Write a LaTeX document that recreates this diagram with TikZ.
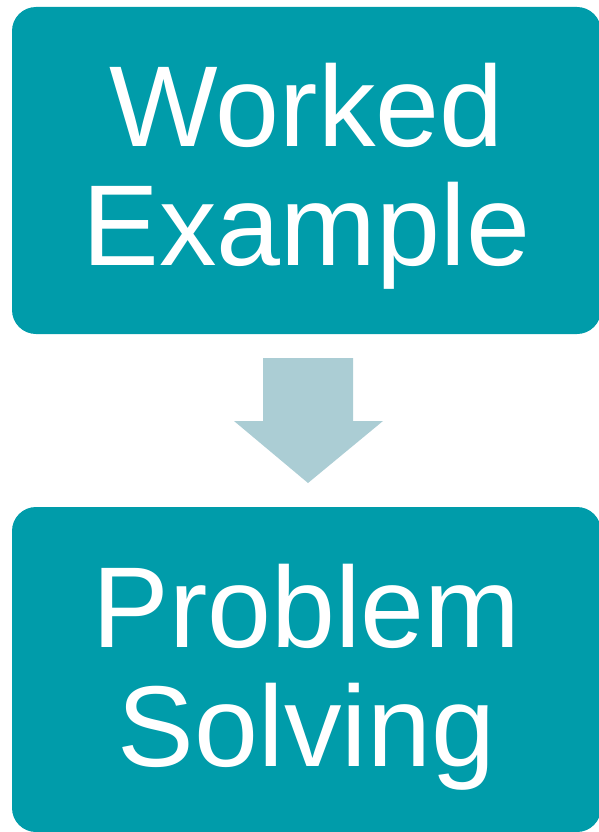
\documentclass[tikz,border=0pt]{standalone}
\usepackage{fontspec}
\setmainfont{Liberation Sans}
\definecolor{tealbox}{RGB}{0,156,170}
\definecolor{arrowgray}{RGB}{171,205,212}
\begin{document}
\begin{tikzpicture}[x=1pt,y=-1pt,
  every node/.style={inner sep=0pt,outer sep=0pt},
  stagebox/.style={fill=tealbox,rounded corners=24pt,minimum width=589pt},
  stagetext/.style={text=white,align=center,font=\fontsize{115}{119}\selectfont}]
  \useasboundingbox (0,0) rectangle (599,832);

  % Cajas de las dos etapas
  \node[stagebox,minimum height=327pt] (worked) at (306.5,170.5) {};
  \node[stagebox,minimum height=325pt] (solving) at (306.5,669.5) {};

  % Textos de las cajas
  \node[stagetext] (workedtext) at ([yshift=-6pt]worked.center) {Worked\\Example};
  \node[stagetext] (solvingtext) at ([yshift=-7.5pt]solving.center) {Problem\\Solving};

  % Flecha entre las cajas
  \fill[arrowgray] (263,358) -- (353,358) -- (353,421) -- (383,421)
    -- (308,483) -- (234,421) -- (263,421) -- cycle;
\end{tikzpicture}
\end{document}
